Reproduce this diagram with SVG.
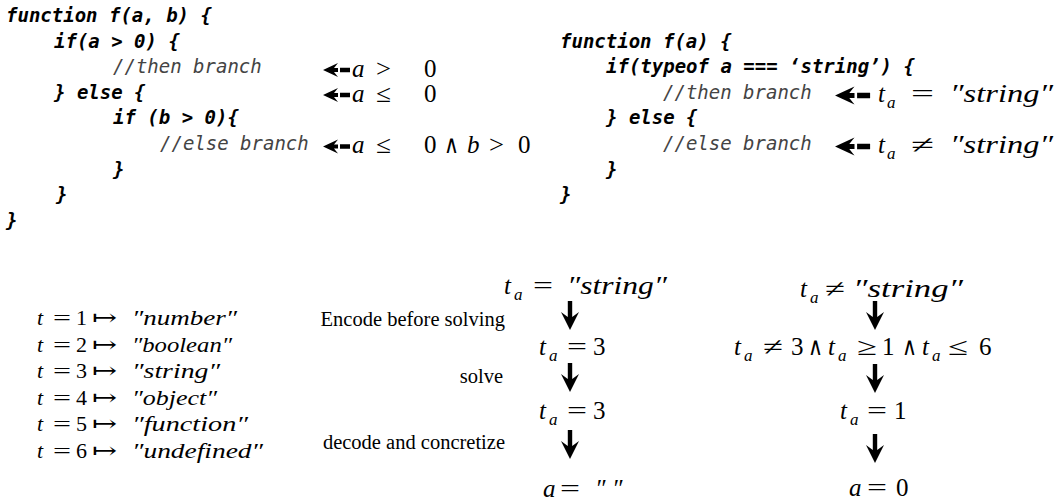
<svg xmlns="http://www.w3.org/2000/svg" width="1058" height="500" viewBox="0 0 1058 500">
<style>
.code{font-family:"DejaVu Sans Mono","Liberation Mono",monospace;font-size:19px;font-weight:bold;font-style:italic;fill:#000}
.cmt{font-family:"DejaVu Sans Mono","Liberation Mono",monospace;font-size:19px;font-style:italic;fill:#444}
.m{font-family:"Liberation Serif","DejaVu Serif",serif;font-size:25px;fill:#000}
.t{font-family:"Liberation Serif","DejaVu Serif",serif;font-size:22px;fill:#000}
.i{font-style:italic}
.s{font-family:"Liberation Serif","DejaVu Serif",serif;font-size:17px;font-style:italic;fill:#000}
.lbl{font-family:"Liberation Serif","Times New Roman",serif;font-size:20.5px;fill:#000}
.arr{fill:#000}
</style>
<defs>
<path id="la" d="M0,0 L15,-7 L11,-2 H15 V2 H11 L15,7 Z M17,-2.2 H27 V2.2 H17 Z"/>
<path id="da" d="M-2.2,0 H2.2 V16 L9,11 L0,29 L-9,11 L-2.2,16 Z"/>
</defs>
<rect width="1058" height="500" fill="#fff"/>

<g id="code-left">
<text class="code" x="6" y="22">function f(a, b) {</text>
<text class="code" x="54" y="47.6">if(a &gt; 0) {</text>
<text class="cmt" x="113" y="73.2">//then branch</text>
<text class="code" x="54" y="98.8">} else {</text>
<text class="code" x="113" y="124.4">if (b &gt; 0){</text>
<text class="cmt" x="160" y="150">//else branch</text>
<text class="code" x="113" y="175.6">}</text>
<text class="code" x="56" y="201.2">}</text>
<text class="code" x="6" y="226.8">}</text>
</g>

<g id="code-right">
<text class="code" x="560" y="47.6">function f(a) {</text>
<text class="code" x="606" y="73.2">if(typeof a === ‘string’) {</text>
<text class="cmt" x="663" y="98.8">//then branch</text>
<text class="code" x="606" y="124.4">} else {</text>
<text class="cmt" x="663" y="150">//else branch</text>
<text class="code" x="606" y="175.6">}</text>
<text class="code" x="560" y="201.2">}</text>
</g>

<g id="cond-left">
<text class="m i" x="352" y="77">a</text>
<text class="m" x="376" y="77" textLength="15" lengthAdjust="spacingAndGlyphs">&gt;</text>
<text class="m" x="424" y="77">0</text>

<text class="m i" x="352" y="102">a</text>
<text class="m" x="376" y="102" textLength="15" lengthAdjust="spacingAndGlyphs">≤</text>
<text class="m" x="424" y="102">0</text>

<text class="m i" x="352" y="153">a</text>
<text class="m" x="376" y="153" textLength="15" lengthAdjust="spacingAndGlyphs">≤</text>
<text class="m" x="424" y="153">0</text>
<text class="m" x="444" y="153" textLength="15" lengthAdjust="spacingAndGlyphs">∧</text>
<text class="m i" x="467" y="153">b</text>
<text class="m" x="489" y="153" textLength="15" lengthAdjust="spacingAndGlyphs">&gt;</text>
<text class="m" x="518" y="153">0</text>
</g>

<g id="cond-right">
<text class="m i" x="878" y="102">t</text>
<text class="s" x="887" y="108">a</text>
<text class="m" x="911" y="102" textLength="23" lengthAdjust="spacingAndGlyphs">=</text>
<text class="m i" x="950" y="102" textLength="103" lengthAdjust="spacingAndGlyphs">″string″</text>

<text class="m i" x="878" y="153">t</text>
<text class="s" x="887" y="159">a</text>
<text class="m" x="911" y="153" textLength="23" lengthAdjust="spacingAndGlyphs">≠</text>
<text class="m i" x="950" y="153" textLength="103" lengthAdjust="spacingAndGlyphs">″string″</text>
</g>

<g id="connectors">
<use href="#la" class="arr" x="323" y="70"/>
<use href="#la" class="arr" x="323" y="95"/>
<use href="#la" class="arr" x="323" y="146.5"/>
<use href="#la" class="arr" transform="translate(835,95.5) scale(1.3)"/>
<use href="#la" class="arr" transform="translate(835,146.5) scale(1.3)"/>
<use href="#da" class="arr" x="570" y="301"/>
<use href="#da" class="arr" x="570" y="363"/>
<use href="#da" class="arr" x="570" y="430"/>
<use href="#da" class="arr" x="875" y="301"/>
<use href="#da" class="arr" x="875" y="364"/>
<use href="#da" class="arr" x="875" y="434"/>
</g>

<g id="type-map">
<text class="t i" x="37" y="325">t</text><text class="t" x="53" y="325" textLength="18" lengthAdjust="spacingAndGlyphs">=</text><text class="t" x="76" y="325">1</text><text class="t" x="92" y="325" textLength="25" lengthAdjust="spacingAndGlyphs">↦</text><text class="t i" x="132" y="325" textLength="105" lengthAdjust="spacingAndGlyphs">″number″</text>
<text class="t i" x="37" y="351.6">t</text><text class="t" x="53" y="351.6" textLength="18" lengthAdjust="spacingAndGlyphs">=</text><text class="t" x="76" y="351.6">2</text><text class="t" x="92" y="351.6" textLength="25" lengthAdjust="spacingAndGlyphs">↦</text><text class="t i" x="132" y="351.6" textLength="100" lengthAdjust="spacingAndGlyphs">″boolean″</text>
<text class="t i" x="37" y="378.2">t</text><text class="t" x="53" y="378.2" textLength="18" lengthAdjust="spacingAndGlyphs">=</text><text class="t" x="76" y="378.2">3</text><text class="t" x="92" y="378.2" textLength="25" lengthAdjust="spacingAndGlyphs">↦</text><text class="t i" x="132" y="378.2" textLength="88" lengthAdjust="spacingAndGlyphs">″string″</text>
<text class="t i" x="37" y="404.8">t</text><text class="t" x="53" y="404.8" textLength="18" lengthAdjust="spacingAndGlyphs">=</text><text class="t" x="76" y="404.8">4</text><text class="t" x="92" y="404.8" textLength="25" lengthAdjust="spacingAndGlyphs">↦</text><text class="t i" x="132" y="404.8" textLength="85" lengthAdjust="spacingAndGlyphs">″object″</text>
<text class="t i" x="37" y="431.4">t</text><text class="t" x="53" y="431.4" textLength="18" lengthAdjust="spacingAndGlyphs">=</text><text class="t" x="76" y="431.4">5</text><text class="t" x="92" y="431.4" textLength="25" lengthAdjust="spacingAndGlyphs">↦</text><text class="t i" x="132" y="431.4" textLength="116" lengthAdjust="spacingAndGlyphs">″function″</text>
<text class="t i" x="37" y="458">t</text><text class="t" x="53" y="458" textLength="18" lengthAdjust="spacingAndGlyphs">=</text><text class="t" x="76" y="458">6</text><text class="t" x="92" y="458" textLength="25" lengthAdjust="spacingAndGlyphs">↦</text><text class="t i" x="132" y="458" textLength="131" lengthAdjust="spacingAndGlyphs">″undefined″</text>
</g>

<g id="labels">
<text class="lbl" x="505" y="326" text-anchor="end">Encode before solving</text>
<text class="lbl" x="503" y="383" text-anchor="end">solve</text>
<text class="lbl" x="505" y="449" text-anchor="end">decode and concretize</text>
</g>

<g id="chain-left">
<text class="m i" x="504" y="294">t</text><text class="s" x="514" y="300">a</text><text class="m" x="533" y="294" textLength="20" lengthAdjust="spacingAndGlyphs">=</text><text class="m i" x="567" y="294" textLength="100" lengthAdjust="spacingAndGlyphs">″string″</text>
<text class="m i" x="539" y="355">t</text><text class="s" x="549" y="361">a</text><text class="m" x="567" y="355" textLength="20" lengthAdjust="spacingAndGlyphs">=</text><text class="m" x="593" y="355">3</text>
<text class="m i" x="539" y="419">t</text><text class="s" x="549" y="425">a</text><text class="m" x="567" y="419" textLength="20" lengthAdjust="spacingAndGlyphs">=</text><text class="m" x="593" y="419">3</text>
<text class="m i" x="543" y="497">a</text><text class="m" x="560" y="497" textLength="20" lengthAdjust="spacingAndGlyphs">=</text><text class="m i" x="595" y="497">″</text><text class="m i" x="612" y="497">″</text>
</g>

<g id="chain-right">
<text class="m i" x="800" y="297">t</text><text class="s" x="810" y="303">a</text><text class="m" x="825" y="297" textLength="20" lengthAdjust="spacingAndGlyphs">≠</text><text class="m i" x="853" y="297" textLength="110" lengthAdjust="spacingAndGlyphs">″string″</text>
<text class="m i" x="734" y="355">t</text><text class="s" x="744" y="361">a</text><text class="m" x="763" y="355" textLength="20" lengthAdjust="spacingAndGlyphs">≠</text><text class="m" x="791" y="355">3</text><text class="m" x="808" y="355" textLength="15" lengthAdjust="spacingAndGlyphs">∧</text><text class="m i" x="828" y="355">t</text><text class="s" x="838" y="361">a</text><text class="m" x="857" y="355" textLength="20" lengthAdjust="spacingAndGlyphs">≥</text><text class="m" x="882" y="355">1</text><text class="m" x="902" y="355" textLength="15" lengthAdjust="spacingAndGlyphs">∧</text><text class="m i" x="922" y="355">t</text><text class="s" x="932" y="361">a</text><text class="m" x="948" y="355" textLength="20" lengthAdjust="spacingAndGlyphs">≤</text><text class="m" x="979" y="355">6</text>
<text class="m i" x="840" y="419">t</text><text class="s" x="850" y="425">a</text><text class="m" x="867" y="419" textLength="20" lengthAdjust="spacingAndGlyphs">=</text><text class="m" x="894" y="419">1</text>
<text class="m i" x="849" y="496">a</text><text class="m" x="867" y="496" textLength="20" lengthAdjust="spacingAndGlyphs">=</text><text class="m" x="896" y="496">0</text>
</g>
</svg>
